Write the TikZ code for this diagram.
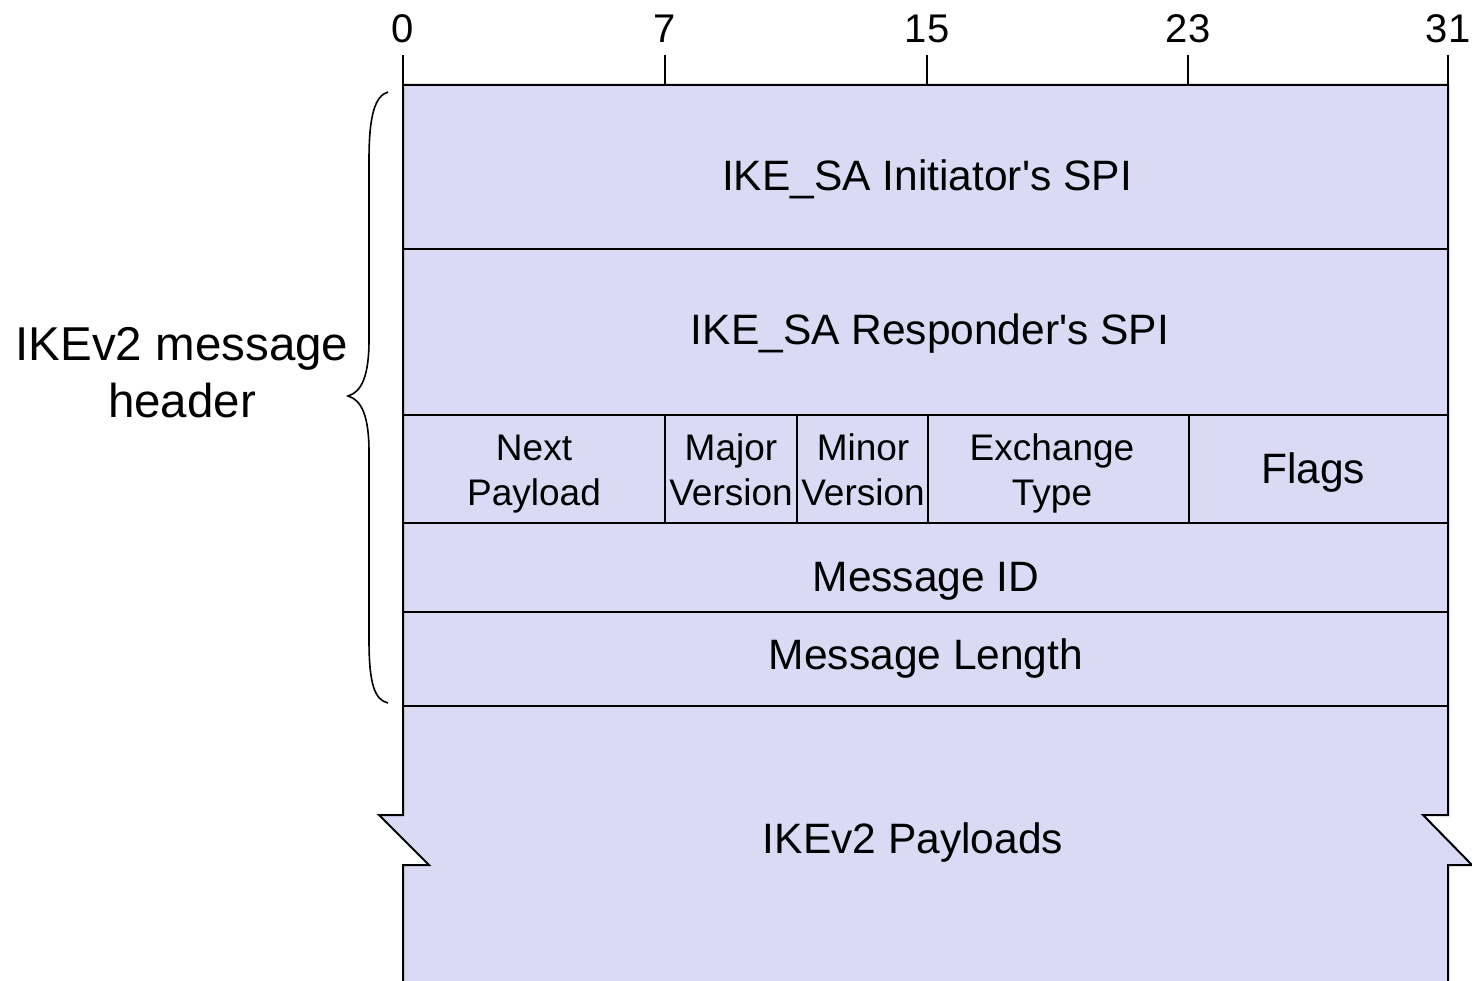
\documentclass[tikz,border=0pt]{standalone}
\usepackage{fontspec}
\setmainfont{Liberation Sans}
\definecolor{fieldfill}{RGB}{218,218,244}
\begin{document}
\begin{tikzpicture}[x=1pt,y=-1pt,
  border/.style={line width=2pt, line join=miter},
  tick/.style={line width=1.6pt},
  big/.style={font=\fontsize{42.5}{48}\selectfont, align=center, inner sep=0pt},
  small/.style={font=\fontsize{37}{45}\selectfont, align=center, inner sep=0pt},
  num/.style={font=\fontsize{40}{46}\selectfont, inner sep=0pt},
  side/.style={font=\fontsize{47.5}{57}\selectfont, align=center, inner sep=0pt}]
\useasboundingbox (0,0) rectangle (1472,981);
% fill
\fill[fieldfill] (403,85) -- (1448,85) -- (1448,815) -- (1423,815) -- (1472,865) -- (1448,865)
  -- (1448,985) -- (403,985) -- (403,865) -- (429,865) -- (379,815) -- (403,815) -- cycle;
% outline (open at bottom)
\draw[border] (403,990) -- (403,865) -- (429,865) -- (379,815) -- (403,815) -- (403,85)
  -- (1448,85) -- (1448,815) -- (1423,815) -- (1472,865) -- (1448,865) -- (1448,990);
% row separators
\foreach \y in {249,415,523,612,706} \draw[border] (403,\y) -- (1448,\y);
% column separators in third row
\foreach \x in {665,797,928,1189} \draw[border] (\x,415) -- (\x,523);
% ticks and bit numbers
\foreach \x/\n/\lab in {403/t0/0,665/t7/7,927/t15/15,1188/t23/23,1448/t31/31}{
  \coordinate (\n a) at (\x,55);
  \coordinate (\n b) at (\x,85);
  \draw[tick] (\n a) -- (\n b);
  \node[num] (\n) at (\x,29) {\lab};
}
% field labels
\node[big] (init) at (927,179) {IKE\_SA Initiator\textquotesingle s SPI};
\node[big] (resp) at (930,334) {IKE\_SA Responder\textquotesingle s SPI};
\node[small] (next) at (534,474) {Next\strut\\Payload\strut};
\node[small] (major) at (731,474) {Major\strut\\Version\strut};
\node[small] (minor) at (863,474) {Minor\strut\\Version\strut};
\node[small] (exch) at (1052,474) {Exchange\strut\\Type\strut};
\node[big] (flags) at (1313,473) {Flags};
\node[big] (msgid) at (926,581) {Message ID};
\node[big] (msglen) at (926,659) {Message Length};
\node[big] (payl) at (913,843) {IKEv2 Payloads};
% brace
\draw[line width=1.6pt] (388,92) .. controls (375,96) and (369,115) .. (369,160) -- (369,340)
  .. controls (369,375) and (362,392) .. (348,396)
  .. controls (362,400) and (369,417) .. (369,452) -- (369,640)
  .. controls (369,685) and (375,700) .. (388,703);
\node[side] (hdr) at (182,373) {IKEv2 message\\header};
\end{tikzpicture}
\end{document}
